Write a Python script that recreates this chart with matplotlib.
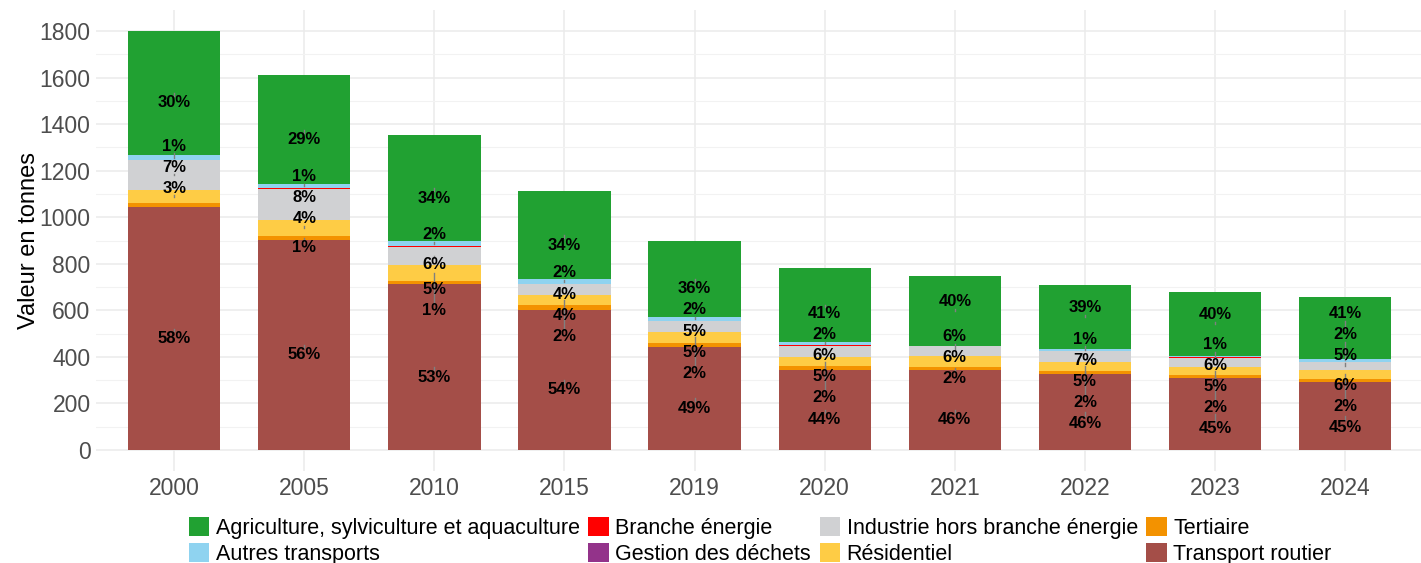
import matplotlib
matplotlib.use("Agg")
import matplotlib.pyplot as plt
from matplotlib.patches import Patch
import numpy as np

years = ["2000", "2005", "2010", "2015", "2019", "2020", "2021", "2022", "2023", "2024"]

# stacked from bottom to top
transport_routier = [1044, 902, 712, 601, 443, 344, 344, 326, 308, 294]
tertiaire         = [16, 17, 14, 21, 18, 16, 13, 15, 14, 12]
residentiel       = [56, 68, 68, 45, 45, 40, 45, 36, 34, 38]
industrie         = [129, 133, 78, 45, 47, 47, 45, 48, 41, 33]
branche_energie   = [0, 4, 3, 0, 2, 3, 0, 0, 1, 3]
gestion_dechets   = [0, 0, 0, 0, 0, 0, 0, 0, 0, 0]
autres_transports = [21, 17, 22, 21, 18, 13, 0, 8, 7, 10]
agriculture       = [534, 470, 455, 380, 325, 320, 300, 276, 274, 268]

series = [
    ("Transport routier", transport_routier, "#A44E48"),
    ("Tertiaire", tertiaire, "#F39200"),
    ("Résidentiel", residentiel, "#FECC45"),
    ("Industrie hors branche énergie", industrie, "#D0D1D3"),
    ("Branche énergie", branche_energie, "#FF0000"),
    ("Gestion des déchets", gestion_dechets, "#93338A"),
    ("Autres transports", autres_transports, "#8FD3F0"),
    ("Agriculture, sylviculture et aquaculture", agriculture, "#21A132"),
]

plt.rcParams['font.family'] = ['Liberation Sans', 'DejaVu Sans']

fig = plt.figure(figsize=(14.21, 5.63), dpi=100)
ax = fig.add_axes([0.0676, 0.1634, 0.934, 0.8188])

x = np.arange(len(years))
totals = np.zeros(len(years))
for name, vals, col in series:
    totals += np.array(vals, dtype=float)

bottom = np.zeros(len(years))
segs = [[] for _ in years]    # (center, pct) of labelled segments
points = [[] for _ in years]  # centers of all non-empty segments
for name, vals, col in series:
    v = np.array(vals, dtype=float)
    ax.bar(x, v, bottom=bottom, width=0.71, color=col, linewidth=0, zorder=2)
    for i in range(len(years)):
        if v[i] > 0:
            points[i].append(bottom[i] + v[i] / 2)
        pct = v[i] / totals[i] * 100
        if pct >= 1.0:
            segs[i].append((bottom[i] + v[i] / 2, int(round(pct))))
    bottom += v

ylo, yhi = -90, 1890
ax.set_ylim(ylo, yhi)
ax.set_xlim(-0.6, len(years) - 0.4)

# data units per pixel
upp = (yhi - ylo) / (0.8188 * 563)
GAP_PX = 21.0
RAD_PX = 10.5
HALF_H_PX = 7.0
STEP = 0.5
WEIGHT = 10.0
DOWN_BIAS = 1.5


def layout(targets, pts):
    """Label placement (pixels): keep labels GAP_PX apart, stay near their
    segment, softly avoid covering segment centres (like ggrepel)."""
    t = np.array(targets) / upp
    p = np.array(pts) / upp
    cand = np.arange(ylo / upp + 8, yhi / upp - 8, STEP)
    g = int(round(GAP_PX / STEP))
    n = len(t)
    pen = np.zeros_like(cand)
    for pp in p:
        pen += np.clip(RAD_PX - np.abs(cand - pp), 0, None) ** 2

    def cost(ti):
        return (cand - ti) ** 2 + WEIGHT * pen + DOWN_BIAS * (cand - ti)

    dp = cost(t[0])
    back = []
    for i in range(1, n):
        pm = np.minimum.accumulate(dp)
        am = np.zeros(len(dp), dtype=int)
        best = 0
        for k in range(len(dp)):
            if dp[k] < dp[best]:
                best = k
            am[k] = best
        prev = np.full_like(dp, np.inf)
        prev_arg = np.zeros(len(dp), dtype=int)
        prev[g:] = pm[:-g]
        prev_arg[g:] = am[:-g]
        dp = prev + cost(t[i])
        back.append(prev_arg)
    k = int(np.argmin(dp))
    idx = [k]
    for b in reversed(back):
        k = b[k]
        idx.append(k)
    idx.reverse()
    return [cand[j] * upp for j in idx]


for i in range(len(years)):
    items = sorted(segs[i], key=lambda a: a[0])
    targets = [a[0] for a in items]
    pos = layout(targets, points[i])
    half_h = HALF_H_PX * upp
    for (tt, pct), yl in zip(items, pos):
        if abs(yl - tt) > half_h:
            end = yl - half_h if tt < yl else yl + half_h
            ax.plot([x[i], x[i]], [tt, end], color="#808080", lw=1.0, zorder=3)
        ax.text(x[i], yl, f"{pct}%", ha="center", va="center", fontsize=12,
                fontweight="bold", color="black", zorder=4)

ax.set_xticks(x)
ax.set_xticklabels(years)
ax.set_yticks(np.arange(0, 1801, 200))
ax.set_yticks(np.arange(100, 1800, 200), minor=True)
ax.tick_params(axis="both", which="both", length=0, labelsize=16.5, colors="#4D4D4D", pad=4)
ax.tick_params(axis="x", pad=4)
ax.grid(True, which="major", color="#EBEBEB", lw=1.1, zorder=0)
ax.grid(True, which="minor", axis="y", color="#F2F2F2", lw=0.8, zorder=0)
ax.set_axisbelow(True)
for s in ax.spines.values():
    s.set_visible(False)
ax.set_ylabel("Valeur en tonnes", fontsize=17, color="black", labelpad=0)

legend_order = sorted(series, key=lambda a: a[0].lower().replace("é", "e"))
handles = [Patch(facecolor=c, edgecolor="none", label=n) for n, v, c in legend_order]
fig.legend(handles=handles, loc="lower center", bbox_to_anchor=(0.535, -0.03), ncol=4,
           frameon=False, fontsize=15.5, handlelength=0.95, handleheight=0.95,
           handletextpad=0.3, columnspacing=0.4, labelspacing=0.2, borderpad=0.2)

fig.savefig("out.png", dpi=100)
